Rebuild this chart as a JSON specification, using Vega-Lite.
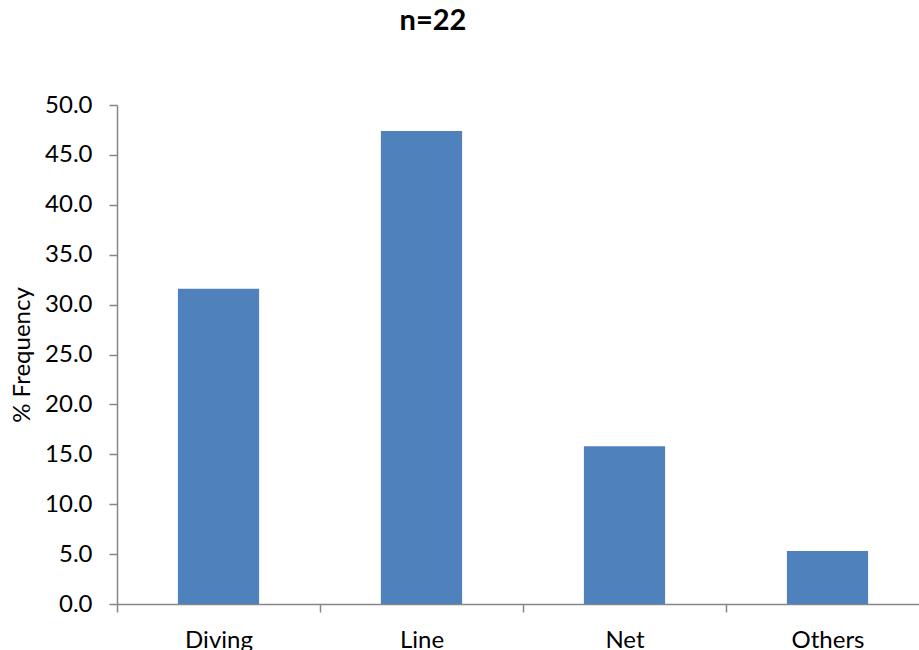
{
  "$schema": "https://vega.github.io/schema/vega-lite/v6.json",
  "autosize": "none",
  "width": 812,
  "height": 499,
  "padding": {"left": 117, "top": 105, "right": 0, "bottom": 46},
  "background": "white",
  "title": {
    "text": "n=22",
    "font": "Lato",
    "fontSize": 29,
    "fontWeight": "bold",
    "color": "#000000",
    "anchor": "middle",
    "frame": "group",
    "baseline": "alphabetic",
    "dx": -90,
    "offset": 34
  },
  "data": {
    "values": [
      {"gear": "Diving", "pct": 31.6},
      {"gear": "Line", "pct": 47.4},
      {"gear": "Net", "pct": 15.8},
      {"gear": "Others", "pct": 5.3}
    ]
  },
  "mark": {"type": "bar", "color": "#4F81BD", "width": {"band": 0.4}},
  "encoding": {
    "x": {
      "field": "gear",
      "type": "nominal",
      "sort": null,
      "scale": {"paddingInner": 0, "paddingOuter": 0},
      "axis": {
        "title": null,
        "labelAngle": 0,
        "labelFont": "Lato",
        "labelFontSize": 24,
        "labelColor": "#000000",
        "labelPadding": 16,
        "tickBand": "extent",
        "tickSize": 8,
        "tickColor": "#868686",
        "domainColor": "#868686",
        "tickWidth": 1.5,
        "domainWidth": 1.5
      }
    },
    "y": {
      "field": "pct",
      "type": "quantitative",
      "scale": {"domain": [0, 50], "nice": false},
      "axis": {
        "title": "% Frequency",
        "titleFont": "Lato",
        "titleFontSize": 24,
        "titleFontWeight": "normal",
        "titleColor": "#000000",
        "titlePadding": 10,
        "values": [0, 5, 10, 15, 20, 25, 30, 35, 40, 45, 50],
        "format": ".1f",
        "labelFont": "Lato",
        "labelFontSize": 24,
        "labelColor": "#000000",
        "labelPadding": 17,
        "tickSize": 8,
        "tickColor": "#868686",
        "domainColor": "#868686",
        "tickWidth": 1.5,
        "domainWidth": 1.5,
        "grid": false
      }
    }
  },
  "config": {"view": {"stroke": null}}
}
